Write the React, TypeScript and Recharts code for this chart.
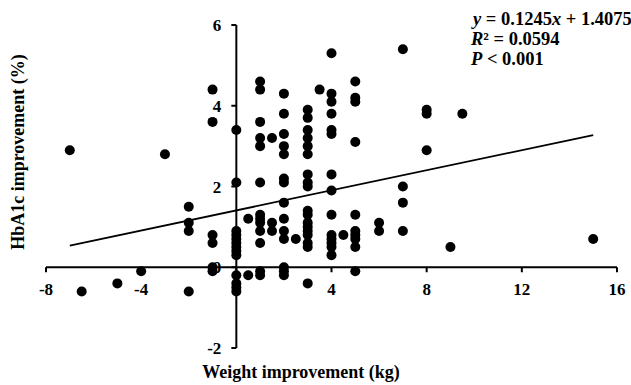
import React from "react";
import { ScatterChart, Scatter, XAxis, YAxis, ReferenceLine } from "recharts";

// Weight improvement (kg) and HbA1c improvement (%) per patient
const weightKg = [
  -7, -6.5, -5, -4, -3,
  -2, -2, -2, -2,
  -1, -1, -1, -1, -1, -1,
  0, 0, 0, 0, 0, 0, 0, 0, 0, 0, 0, 0, 0,
  0.5, 0.5,
  1, 1, 1, 1, 1, 1, 1, 1, 1, 1, 1, 1, 1,
  1.5, 1.5, 1.5,
  2, 2, 2, 2, 2, 2, 2, 2, 2, 2, 2, 2, 2, 2,
  2.5,
  3, 3, 3, 3, 3, 3, 3, 3, 3, 3, 3, 3, 3, 3, 3, 3, 3, 3,
  3.5,
  4, 4, 4, 4, 4, 4, 4, 4, 4, 4, 4, 4, 4, 4,
  4.5,
  5, 5, 5, 5, 5, 5, 5, 5, 5, 5,
  6, 6,
  7, 7, 7, 7,
  8, 8, 8,
  9, 9.5, 15,
];
const hba1cPct = [
  2.9, -0.6, -0.4, -0.1, 2.8,
  1.5, 1.1, 0.9, -0.6,
  4.4, 3.6, 0.8, 0.6, 0.0, -0.1,
  3.4, 2.1, 0.9, 0.8, 0.7, 0.6, 0.5, 0.4, 0.3, -0.2, -0.4, -0.5, -0.6,
  1.2, -0.2,
  4.6, 4.4, 3.6, 3.2, 3.0, 2.1, 1.3, 1.2, 1.1, 0.9, 0.6, -0.1, -0.2,
  3.2, 1.1, 0.9,
  4.3, 3.8, 3.3, 3.0, 2.8, 2.2, 2.1, 1.6, 1.2, 0.9, 0.7, 0.0, -0.1, -0.2,
  0.7,
  3.9, 3.7, 3.4, 3.2, 3.0, 2.8, 2.3, 2.1, 2.0, 1.4, 1.3, 1.1, 1.0, 0.9, 0.8, 0.6, 0.5, -0.4,
  4.4,
  5.3, 4.3, 4.1, 3.8, 3.4, 3.3, 2.3, 1.9, 1.3, 0.8, 0.7, 0.6, 0.5, 0.3,
  0.8,
  4.6, 4.2, 4.1, 3.1, 1.3, 0.9, 0.8, 0.7, 0.5, -0.1,
  1.1, 0.9,
  5.4, 2.0, 1.6, 0.9,
  3.9, 3.8, 2.9,
  0.5, 3.8, 0.7,
];

// fitted line end points (y = 0.1245x + 1.4075)
const trendX = [-7, 15];
const trendY = [0.536, 3.275];

const xTicks = [-8, -4, 0, 4, 8, 12, 16];
const yTicks = [-2, 0, 2, 4, 6];

const W = 631;
const H = 385;
// axis sizes of 1px are part of the plot offset
const M = { top: 25, right: 14, bottom: 36, left: 45 };
const PLOT_LEFT = M.left + 1;
const PLOT_W = W - PLOT_LEFT - M.right;
const PLOT_H = H - M.top - M.bottom - 1;
const X_DOM = [-8, 16];
const Y_DOM = [-2, 6];
// where the axes cross (x = 0, y = 0)
const ZERO_X = PLOT_LEFT + (PLOT_W * (0 - X_DOM[0])) / (X_DOM[1] - X_DOM[0]);
const ZERO_Y = M.top + (PLOT_H * (Y_DOM[1] - 0)) / (Y_DOM[1] - Y_DOM[0]);

const FONT = "'Liberation Serif', 'Times New Roman', serif";

const points = weightKg.map((x, i) => ({ x, y: hba1cPct[i] }));
const trend = trendX.map((x, i) => ({ x, y: trendY[i] }));

function XTick(props: any) {
  const { x, payload } = props;
  return (
    <g>
      <line x1={x} x2={x} y1={ZERO_Y} y2={ZERO_Y + 5} stroke="#000" strokeWidth={2} />
      <text x={x} y={ZERO_Y + 28} textAnchor="middle" fontFamily={FONT} fontWeight="bold" fontSize={17} fill="#000">
        {payload.value}
      </text>
    </g>
  );
}

function YTick(props: any) {
  const { y, payload } = props;
  return (
    <g>
      <line x1={ZERO_X - 5} x2={ZERO_X} y1={y} y2={y} stroke="#000" strokeWidth={2} />
      <text x={ZERO_X - 15} y={y + 6} textAnchor="end" fontFamily={FONT} fontWeight="bold" fontSize={17} fill="#000">
        {payload.value}
      </text>
    </g>
  );
}

const Dot = (p: any) => <circle cx={p.cx} cy={p.cy} r={5} fill="#000" />;

export default function App() {
  return (
    <div style={{ position: "absolute", left: 0, top: 0, background: "#fff" }}>
      <ScatterChart width={W} height={H} margin={M}>
        <XAxis
          type="number"
          dataKey="x"
          domain={X_DOM}
          ticks={xTicks}
          interval={0}
          axisLine={false}
          tickLine={false}
          height={1}
          tick={(p: any) => <XTick {...p} />}
        />
        <YAxis
          type="number"
          dataKey="y"
          domain={Y_DOM}
          ticks={yTicks}
          interval={0}
          axisLine={false}
          tickLine={false}
          width={1}
          tick={(p: any) => <YTick {...p} />}
        />
        <ReferenceLine y={0} stroke="#000" strokeWidth={2} />
        <ReferenceLine x={0} stroke="#000" strokeWidth={2} />
        <Scatter data={points} shape={Dot} isAnimationActive={false} />
        <Scatter
          data={trend}
          line={{ stroke: "#000", strokeWidth: 1.75 }}
          shape={() => <g />}
          isAnimationActive={false}
        />
        <text x={473} y={25} fontFamily={FONT} fontWeight="bold" fontSize={18.5} fill="#000">
          <tspan fontStyle="italic">y</tspan> = 0.1245<tspan fontStyle="italic">x</tspan> + 1.4075
        </text>
        <text x={471} y={45} fontFamily={FONT} fontWeight="bold" fontSize={18.5} fill="#000">
          <tspan fontStyle="italic">R</tspan>² = 0.0594
        </text>
        <text x={471} y={65} fontFamily={FONT} fontWeight="bold" fontSize={18.5} fill="#000">
          <tspan fontStyle="italic">P</tspan> &lt; 0.001
        </text>
        <text x={301} y={378} textAnchor="middle" fontFamily={FONT} fontWeight="bold" fontSize={18} fill="#000">
          Weight improvement (kg)
        </text>
        <text
          x={24}
          y={152}
          transform="rotate(-90 24 152)"
          textAnchor="middle"
          fontFamily={FONT}
          fontWeight="bold"
          fontSize={18}
          fill="#000"
        >
          HbA1c improvement (%)
        </text>
      </ScatterChart>
    </div>
  );
}
